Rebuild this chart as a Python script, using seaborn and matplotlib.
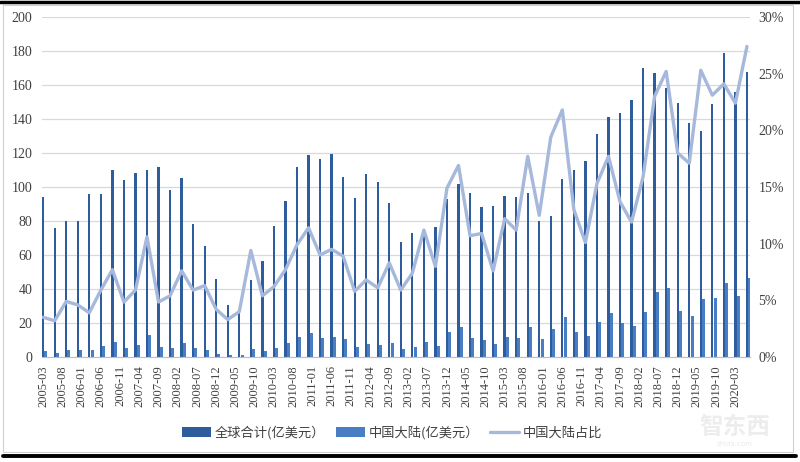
import numpy as np
import pandas as pd
import matplotlib.pyplot as plt
import seaborn as sns
from matplotlib.lines import Line2D
from matplotlib.patches import Rectangle

# quarterly data, 2005-03 .. 2020-06
quarters = pd.date_range('2005-03-01', periods=62, freq='3MS')

global_total = [94, 76, 80, 80, 96, 96, 110, 104, 108, 110,
                112, 98.5, 105.5, 78.5, 65.5, 45.7, 30.6, 26, 45, 56.7,
                77.2, 91.8, 112, 118.8, 116.5, 119.6, 106, 93.3, 107.5, 103.1,
                90.8, 67.8, 73.1, 75.1, 76.7, 92.9, 101.6, 96.3, 88, 89,
                94.9, 93.9, 96.7, 80, 83.1, 104.7, 110, 115.5, 131, 141.4,
                143.7, 151.2, 169.8, 167.3, 158.4, 149.6, 137.8, 133.1, 148.6, 178.6,
                155.7, 167.8]

china = [3.5, 2.5, 4.3, 4.3, 4.3, 6.5, 9, 5.5, 6.9, 13,
         5.7, 5.5, 8.4, 5.1, 4.3, 2, 1.1, 1.1, 4.9, 3.7,
         5.1, 8, 12, 14.3, 11, 12, 10.4, 6.1, 7.6, 7.1,
         8, 4.5, 6.1, 9, 6.5, 14.5, 17.8, 11, 10, 7.5,
         12, 11, 17.8, 10.6, 16.7, 23.3, 14.9, 12.4, 20.4, 25.7,
         19.8, 18.2, 26.7, 38.4, 40.4, 27.3, 24.1, 34.1, 34.9, 43.3,
         35.9, 46.7]

share = [3.5, 3.2, 4.9, 4.6, 3.9, 5.9, 7.7, 4.85, 5.9, 10.6,
         4.85, 5.4, 7.6, 5.9, 6.3, 4.2, 3.3, 4.0, 9.4, 5.4,
         6.2, 7.7, 9.9, 11.4, 9.0, 9.5, 8.9, 5.8, 6.8, 6.1,
         8.3, 5.9, 7.4, 11.2, 8.0, 14.9, 16.9, 10.7, 10.9, 7.6,
         12.2, 11.2, 17.7, 12.5, 19.4, 21.8, 13.0, 10.1, 15.3, 17.7,
         13.7, 11.9, 15.9, 23.0, 25.2, 18.0, 17.1, 25.3, 23.1, 24.1,
         22.4, 27.4]

tick_labels = ['2005-03', '2005-08', '2006-01', '2006-06', '2006-11', '2007-04',
               '2007-09', '2008-02', '2008-07', '2008-12', '2009-05', '2009-10',
               '2010-03', '2010-08', '2011-01', '2011-06', '2011-11', '2012-04',
               '2012-09', '2013-02', '2013-07', '2013-12', '2014-05', '2014-10',
               '2015-03', '2015-08', '2016-01', '2016-06', '2016-11', '2017-04',
               '2017-09', '2018-02', '2018-07', '2018-12', '2019-05', '2019-10',
               '2020-03']

c_global = '#2E5D9E'
c_china = '#4A7EC4'
c_line = '#A6B8DB'
c_text = '#404040'

sns.set_style('white')
plt.rcParams['font.family'] = ['Liberation Serif', 'Noto Sans CJK SC']

# months since 2005-03 -> date axis like the original
months = (quarters.year - 2005) * 12 + quarters.month - 3
tick_months = [(int(t[:4]) - 2005) * 12 + int(t[5:]) - 3 for t in tick_labels]

df = pd.DataFrame({'m': months, 'global': global_total, 'china': china, 'share': share})

fig = plt.figure(figsize=(8, 4.62), dpi=100)
ax = fig.add_axes([0.0525, 0.2273, 0.885, 0.7359])

sns.barplot(x=df['m'], y=df['global'], native_scale=True, orient='x', width=0.2,
            color=c_global, saturation=1, linewidth=0, errorbar=None,
            label='全球合计(亿美元）', ax=ax)
sns.barplot(x=df['m'] + 0.72, y=df['china'], native_scale=True, orient='x', width=0.26,
            color=c_china, saturation=1, linewidth=0, errorbar=None,
            label='中国大陆(亿美元）', ax=ax)

ax.set_xlim(-0.3, 183.8)
ax.set_ylim(0, 200)
ax.set_yticks(range(0, 201, 20))
ax.yaxis.grid(True, color='#D9D9D9', linewidth=0.9)
ax.set_axisbelow(True)
ax.set_xticks(tick_months)
ax.set_xticklabels(tick_labels, rotation=90, fontsize=9, color=c_text)
ax.tick_params(axis='y', length=0, labelsize=10, labelcolor=c_text, pad=7)
ax.tick_params(axis='x', length=4, width=0.8, color='#BFBFBF', pad=2)
for s in ['top', 'left', 'right']:
    ax.spines[s].set_visible(False)
ax.spines['bottom'].set_color('#BFBFBF')
ax.set_xlabel('')
ax.set_ylabel('')

ax2 = ax.twinx()
sns.lineplot(x=df['m'], y=df['share'], color=c_line, linewidth=2.4,
             label='中国大陆占比', ax=ax2, legend=False)
ax2.set_ylim(0, 30)
ax2.set_yticks(range(0, 31, 5))
ax2.set_yticklabels([f'{v}%' for v in range(0, 31, 5)])
ax2.tick_params(axis='y', length=0, labelsize=10, labelcolor=c_text, pad=6)
for s in ax2.spines.values():
    s.set_visible(False)
ax2.set_ylabel('')
ax2.set_xlim(ax.get_xlim())

h1, l1 = ax.get_legend_handles_labels()
h2, l2 = ax2.get_legend_handles_labels()
if ax.get_legend():
    ax.get_legend().remove()
fig.legend(h1 + h2, l1 + l2, loc='center', bbox_to_anchor=(0.49, 0.063), ncol=3,
           frameon=False, prop={'family': ['Noto Sans CJK SC'], 'size': 9.5},
           handlelength=2.2, handleheight=0.75, handletextpad=0.3, columnspacing=0.8,
           labelcolor=c_text)

# watermark
fig.text(0.918, 0.075, '智东西', fontsize=17, color='#EDEDED', ha='center', va='center',
         family=['Noto Sans CJK SC'], fontweight='bold')
fig.text(0.918, 0.038, 'zhidx.com', fontsize=5, color='#EAEAEA', ha='center', va='center',
         family=['DejaVu Sans'])

# screenshot frame
fig.add_artist(Rectangle((3 / 800, 1 - 452 / 462), 790 / 800, 447 / 462, transform=fig.transFigure,
                         fill=False, edgecolor='#D0D0D0', linewidth=0.8))
fig.add_artist(Line2D([0, 1], [1 - 1.5 / 462] * 2, transform=fig.transFigure,
                      color='black', linewidth=2.5))
fig.add_artist(Line2D([3 / 800, 796 / 800], [1 - 456 / 462] * 2, transform=fig.transFigure,
                      color='black', linewidth=2.8))

fig.savefig('out.png', dpi=100)
